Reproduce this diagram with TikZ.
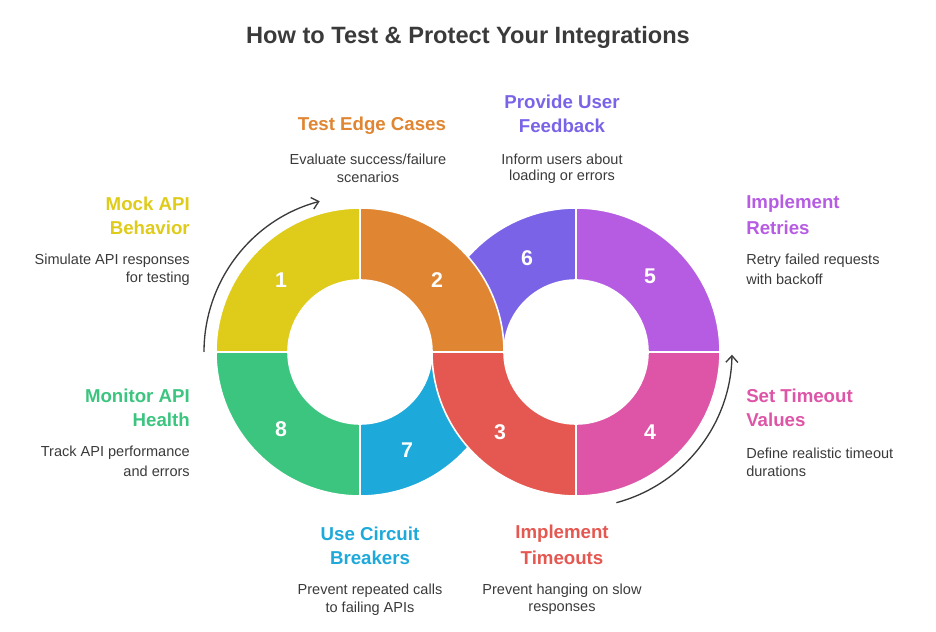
\documentclass[tikz,border=0pt]{standalone}
\usepackage{fontspec}
\setmainfont{Liberation Sans}
\usetikzlibrary{arrows.meta,calc}
\definecolor{cy}{HTML}{DFCB19}
\definecolor{co}{HTML}{E08531}
\definecolor{cr}{HTML}{E55751}
\definecolor{cp}{HTML}{DE55A7}
\definecolor{cu}{HTML}{B65CE3}
\definecolor{cv}{HTML}{7B63E8}
\definecolor{cb}{HTML}{1DA9DA}
\definecolor{cg}{HTML}{3CC57F}
\definecolor{tx}{HTML}{3A3A3A}
\begin{document}
\begin{tikzpicture}[x=0.75pt,y=0.75pt,
 seg/.style={draw=white,line width=1.2pt},
 num/.style={text=white,font=\fontsize{16}{18}\selectfont\bfseries},
 hd/.style={font=\fontsize{14}{16}\selectfont\bfseries,inner sep=0pt},
 ds/.style={font=\fontsize{10.9}{12}\selectfont,text=tx,inner sep=0pt},
 arr/.style={draw=tx,line width=1pt,-{Straight Barb[length=5pt,width=9pt]}}]
\useasboundingbox (0,0) rectangle (936,632);
\newcommand\sector[4]{%
 \fill[#4,seg] ($#1+(#2:144)$) arc[start angle=#2,end angle=#3,radius=144] -- ($#1+(#3:72)$) arc[start angle=#3,end angle=#2,radius=72] -- cycle;}
\coordinate (L) at (360,280);
\coordinate (R) at (576,280);
\sector{(R)}{90}{180}{cv}
\sector{(L)}{270}{360}{cb}
\sector{(L)}{90}{180}{cy}
\sector{(L)}{180}{270}{cg}
\sector{(R)}{0}{90}{cu}
\sector{(R)}{270}{360}{cp}
\sector{(L)}{0}{90}{co}
\sector{(R)}{180}{270}{cr}
\node[num] (n1) at (281,{632-280}) {1};
\node[num] (n2) at (437,{632-280}) {2};
\node[num] (n6) at (527,{632-258}) {6};
\node[num] (n5) at (650,{632-276}) {5};
\node[num] (n4) at (650,{632-432}) {4};
\node[num] (n3) at (500,{632-432}) {3};
\node[num] (n7) at (407,{632-450}) {7};
\node[num] (n8) at (281,{632-429}) {8};
\coordinate (a1) at ($(L)+(180:156)$);
\coordinate (a2) at ($(R)+(-75:156)$);
\draw[arr] (a1) arc[start angle=180,end angle=105,radius=156];
\draw[arr] (a2) arc[start angle=-75,end angle=-1,radius=156];
\node[font=\fontsize{17.7}{19}\selectfont\bfseries,text=tx] (t) at (468,{632-37}) {How to Test \& Protect Your Integrations};
% left labels
\node[hd,text=cy,anchor=east] (h1a) at (190,{632-204}) {Mock API};
\node[hd,text=cy,anchor=east] (h1b) at (190,{632-228}) {Behavior};
\node[ds,anchor=east] (d1a) at (190,{632-261}) {Simulate API responses};
\node[ds,anchor=east] (d1b) at (190,{632-279}) {for testing};
\node[hd,text=cg,anchor=east] (h8a) at (190,{632-396}) {Monitor API};
\node[hd,text=cg,anchor=east] (h8b) at (190,{632-420}) {Health};
\node[ds,anchor=east] (d8a) at (190,{632-453}) {Track API performance};
\node[ds,anchor=east] (d8b) at (190,{632-471}) {and errors};
% right labels
\node[hd,text=cu,anchor=west] (h5a) at (746,{632-204}) {Implement};
\node[hd,text=cu,anchor=west] (h5b) at (746,{632-228}) {Retries};
\node[ds,anchor=west] (d5a) at (746,{632-261}) {Retry failed requests};
\node[ds,anchor=west] (d5b) at (746,{632-279}) {with backoff};
\node[hd,text=cp,anchor=west] (h4a) at (746,{632-396}) {Set Timeout};
\node[hd,text=cp,anchor=west] (h4b) at (746,{632-420}) {Values};
\node[ds,anchor=west] (d4a) at (746,{632-453}) {Define realistic timeout};
\node[ds,anchor=west] (d4b) at (746,{632-471}) {durations};
% top labels
\node[hd,text=co] (h2) at (372,{632-126}) {Test Edge Cases};
\node[ds] (d2a) at (368,{632-159}) {Evaluate success/failure};
\node[ds] (d2b) at (368,{632-177}) {scenarios};
\node[hd,text=cv] (h6a) at (562,{632-102}) {Provide User};
\node[hd,text=cv] (h6b) at (562,{632-126}) {Feedback};
\node[ds] (d6a) at (562,{632-159}) {Inform users about};
\node[ds] (d6b) at (562,{632-177}) {loading or errors};
% bottom labels
\node[hd,text=cb] (h7a) at (370,{632-534}) {Use Circuit};
\node[hd,text=cb] (h7b) at (370,{632-558}) {Breakers};
\node[ds] (d7a) at (370,{632-591}) {Prevent repeated calls};
\node[ds] (d7b) at (370,{632-609}) {to failing APIs};
\node[hd,text=cr] (h3a) at (562,{632-534}) {Implement};
\node[hd,text=cr] (h3b) at (562,{632-558}) {Timeouts};
\node[ds] (d3a) at (562,{632-591}) {Prevent hanging on slow};
\node[ds] (d3b) at (562,{632-609}) {responses};
\end{tikzpicture}
\end{document}
